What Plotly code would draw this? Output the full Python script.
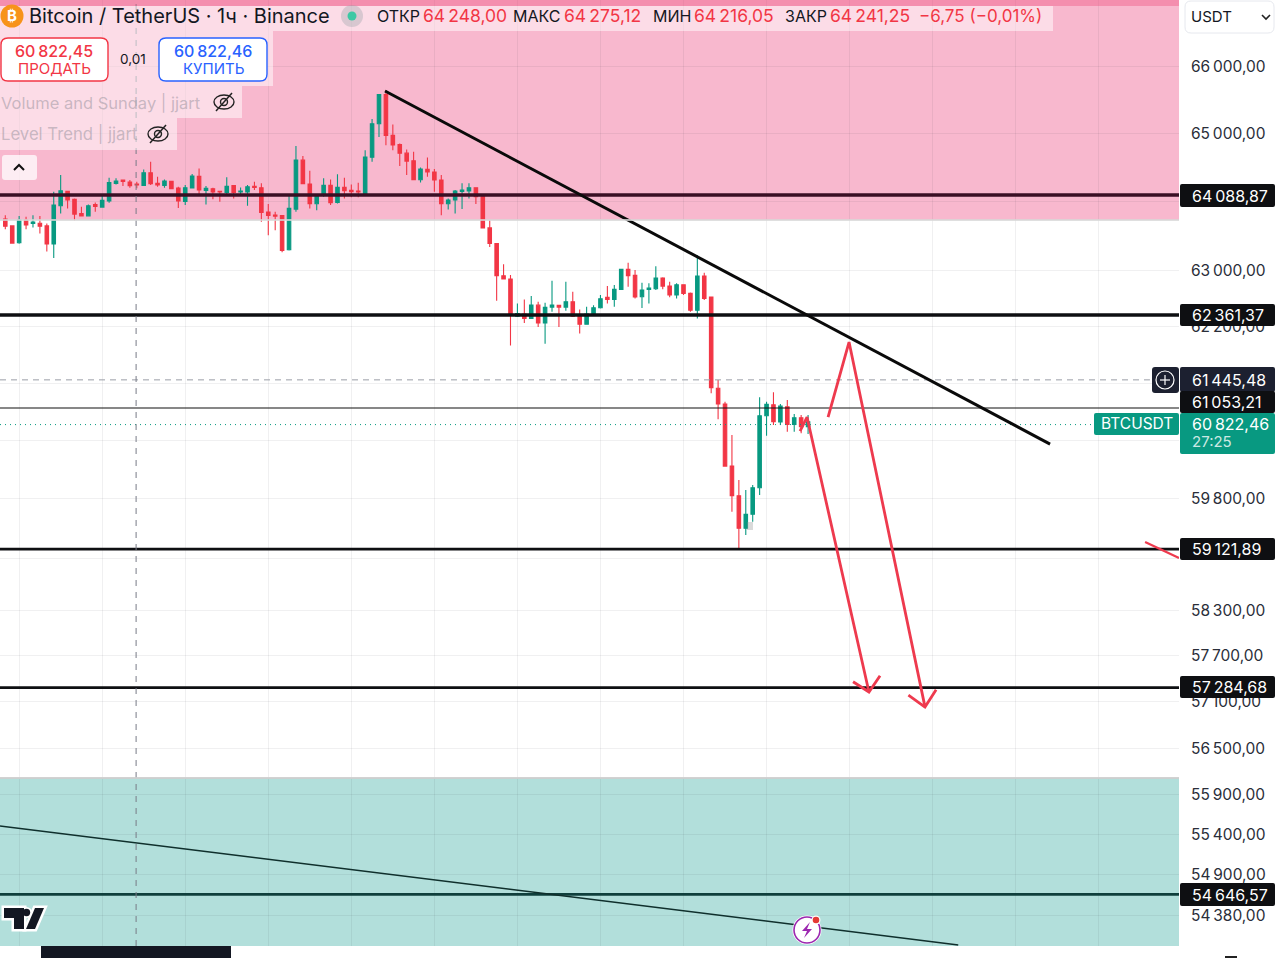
import math
import plotly.graph_objects as go

opens = [63738,63640,63396,63723,63674,63679,63640,63377,63933,64143,
64026,63821,63786,63952,63913,64001,64260,64309,64279,64250,
64231,64416,64260,64231,64289,64191,63996,64191,64362,64157,
64182,64143,64128,64226,64133,64133,64216,64196,63840,63796,
63791,63294,63884,64601,64250,63962,64089,64231,63982,64201,
64157,64148,64104,64645,65139,65573,64967,64831,64704,64592,
64313,64465,64426,64309,63962,64016,64143,64148,64196,64079,
63611,63386,62921,62873,62344,62373,62311,62501,62248,62473,
62497,62473,62549,62354,62230,62383,62463,62612,62583,62726,
63012,62926,62620,62726,62735,62888,62773,62645,62792,62669,
62430,62916,62616,61328,61108,60250,59844,59402,59592,59953,
60946,61098,60858,61071,60826,60918,60793]
highs = [63796,63650,63782,63772,63796,63782,63674,64138,64382,64152,
64040,63918,63952,63982,64089,64343,64333,64313,64309,64284,
64465,64577,64357,64318,64299,64211,64235,64396,64479,64221,
64196,64148,64348,64235,64201,64235,64284,64260,63957,63845,
63796,64089,64811,64660,64445,64089,64333,64318,64392,64343,
64245,64270,64748,65208,65578,65641,65129,64845,64758,64723,
64494,64640,64470,64382,64040,64162,64260,64260,64196,64089,
63723,63391,63085,62930,62526,62583,62630,62549,62534,62849,
62501,62835,62692,62440,62477,62501,62645,62773,62788,63012,
63106,63002,62820,62812,63059,62898,62835,62812,62798,62683,
63216,62963,62620,61444,61140,60677,60058,59922,59990,61202,
61140,61272,61108,61164,60969,60955,60955]
lows = [63591,63381,63381,63591,63616,63528,63269,63176,63821,63894,
63723,63782,63782,63845,63908,63977,64245,64221,64196,64187,
64226,64235,64211,64196,64172,63899,63943,64187,64089,63952,
64026,63991,64089,64040,64074,63933,64162,63699,63503,63577,
63259,63284,63845,64250,63894,63869,64065,63943,63967,64040,
64055,64055,64099,64577,64943,64821,64748,64514,64382,64309,
64274,64357,64138,63796,63879,63821,63884,64040,63957,63611,
63333,62564,62874,61930,62334,62248,62311,62191,61954,62406,
62191,62420,62334,62097,62226,62373,62454,62526,62477,62716,
62763,62597,62459,62526,62716,62726,62612,62597,62645,62406,
62311,62573,61258,60896,60250,59627,59109,59312,59492,59853,
60668,60816,60816,60724,60724,60701,60691]
closes = [63635,63391,63723,63655,63694,63635,63377,63943,64152,64016,
63811,63786,63933,63923,64011,64270,64294,64289,64226,64235,
64416,64255,64235,64294,64182,64001,64196,64367,64162,64187,
64133,64133,64216,64128,64148,64211,64201,63835,63791,63782,
63284,63894,64601,64255,63962,64089,64231,63977,64201,64152,
64138,64133,64645,65139,65573,64967,64826,64704,64587,64313,
64470,64426,64309,63962,64016,64148,64162,64196,64065,63611,
63386,62921,62874,62359,62383,62311,62501,62248,62469,62501,
62473,62549,62344,62230,62373,62463,62592,62583,62726,63012,
62920,62616,62716,62745,62888,62773,62645,62792,62669,62430,
62916,62597,61336,61108,60250,59844,59402,59592,59953,60946,
61104,60862,61081,60826,60918,60793,60862]
candle_index = list(range(len(opens)))

tick_values = [66000,65000,64000,63000,62200,61400,60600,59800,59000,58300,57700,57100,56500,55900,55400,54900,54380]
tick_labels = ["66\u2009000,00","65\u2009000,00","","63\u2009000,00","62\u2009200,00","","","59\u2009800,00","",
               "58\u2009300,00","57\u2009700,00","57\u2009100,00","56\u2009500,00","55\u2009900,00","55\u2009400,00","54\u2009900,00","54\u2009380,00"]

level_strong = [62361.37, 59121.89, 57284.68, 54646.57]
level_top = 64088.87
level_thin = 61053.21
crosshair_price = 61445.48
current_price = 60822.46
crosshair_index = 18.9
pink_zone = [63725, 67002]
teal_zone = [54008, 56115]

trend_x = [54.87, 150.97]
trend_y = [65626, 60553]
lower_trend_x = [-0.77, 137.7]
lower_trend_y = [55504, 54021]
arrow_a_x = [114.84, 115.85, 124.8, 122.5, 124.8, 126.4]
arrow_a_y = [60733, 60927, 57226, 57360, 57226, 57440]
arrow_b_x = [118.89, 121.92, 132.9, 130.5, 132.9, 134.5]
arrow_b_y = [60927, 61978, 57030, 57185, 57030, 57255]
stub_x = [164.7, 169.6]
stub_y = [59215, 59000]

W, H = 1179.0, 946.0
X = lambda p: p / W
Y = lambda p: 1 - p / H
GREEN, RED, BLUE, INK = "#089981", "#F23645", "#2962FF", "#131722"
FONT = "Inter"
XR = [-0.766, 169.6]
YR = [math.log10(54008), math.log10(67002)]

fig = go.Figure()
fig.add_trace(go.Candlestick(
    x=candle_index, open=opens, high=highs, low=lows, close=closes,
    increasing=dict(line=dict(color=GREEN, width=1.1), fillcolor=GREEN),
    decreasing=dict(line=dict(color=RED, width=1.1), fillcolor=RED),
    whiskerwidth=0, hoverinfo="skip", showlegend=False))

def line(xs, ys, color, width, dash=None):
    fig.add_trace(go.Scatter(x=xs, y=ys, mode="lines", hoverinfo="skip", showlegend=False,
                             line=dict(color=color, width=width, dash=dash)))

line(XR, [level_top] * 2, "#3A0F24", 3.4)
for v in level_strong:
    line(XR, [v, v], "#0E0F12" if v > 55000 else "#0F3F3C", 3.6 if v == 62361.37 else 2.8)
line(XR, [level_thin] * 2, "#111111", 1.2)
line([XR[0], 165.4], [crosshair_price] * 2, "#9A9DA6", 1, "6px,5px")
line([XR[0], 157.4], [current_price] * 2, GREEN, 1, "1px,4px")
line([crosshair_index] * 2, [54008, 67002], "#787B86", 1, "6px,6px")
line(trend_x, trend_y, "#0A0A0A", 3)
line(lower_trend_x, lower_trend_y, "#0F2F2C", 1.5)
line(arrow_a_x, arrow_a_y, "#EE3A4E", 2.8)
line(arrow_b_x, arrow_b_y, "#EE3A4E", 2.8)
line(stub_x, stub_y, "#EE3A4E", 2.2)

shapes, notes = [], []

def zone(vals, color):
    shapes.append(dict(type="rect", xref="paper", yref="y", x0=0, x1=1, y0=vals[0], y1=vals[1],
                       fillcolor=color, line_width=0, layer="below"))

zone(pink_zone, "rgba(240,98,146,0.45)")
zone(teal_zone, "rgba(0,150,136,0.30)")

def rect(x0, y0, x1, y1, fill, border=None, bw=1):
    shapes.append(dict(type="rect", xref="paper", yref="paper", x0=X(x0), x1=X(x1), y0=Y(y1), y1=Y(y0),
                       fillcolor=fill, line=dict(width=bw if border else 0, color=border or fill), layer="above"))

def rrect(x0, y0, x1, y1, r, fill, border=None, bw=1):
    a, b, c, d = X(x0), X(x1), Y(y0), Y(y1)
    rx, ry = r / W, r / H
    p = (f"M {a+rx} {c} L {b-rx} {c} Q {b} {c} {b} {c-ry} L {b} {d+ry} Q {b} {d} {b-rx} {d} "
         f"L {a+rx} {d} Q {a} {d} {a} {d+ry} L {a} {c-ry} Q {a} {c} {a+rx} {c} Z")
    shapes.append(dict(type="path", xref="paper", yref="paper", path=p, fillcolor=fill,
                       line=dict(width=bw if border else 0, color=border or fill), layer="above"))

def poly(pts, fill=None, color=None, width=0, closed=False):
    p = "M " + " L ".join(f"{X(a)} {Y(b)}" for a, b in pts) + (" Z" if closed else "")
    d = dict(type="path", xref="paper", yref="paper", path=p, layer="above",
             line=dict(width=width, color=color or "rgba(0,0,0,0)"))
    if fill:
        d["fillcolor"] = fill
    shapes.append(d)

def circ(cx, cy, r, fill=None, border=None, bw=1.5, rx=None):
    rr = rx or r
    d = dict(type="circle", xref="paper", yref="paper", x0=X(cx-rr), x1=X(cx+rr), y0=Y(cy+r), y1=Y(cy-r),
             line=dict(width=bw if border else 0, color=border or "rgba(0,0,0,0)"), layer="above")
    if fill:
        d["fillcolor"] = fill
    shapes.append(d)

def text(x, y, s, color=INK, size=15, anchor="left", weight=400):
    notes.append(dict(xref="paper", yref="paper", x=X(x), y=Y(y), text=s, showarrow=False, xanchor=anchor,
                      yanchor="middle", borderpad=0, align=anchor,
                      font=dict(family=FONT, size=size, color=color, weight=weight)))

# zone edges and page furniture
rect(0, 219, 1179, 221, "rgba(215,215,215,0.8)")
rect(0, 777, 1179, 779, "rgba(205,205,205,0.9)")
rect(0, 0, 1179, 6, "rgba(240,90,135,0.45)")
rect(747, 522, 753, 530, "rgba(150,150,150,0.35)")
rect(41, 946, 231, 958, "#131722")
rect(1225, 956, 1237, 958, "#222222")

# legend backdrops
TRANS = "rgba(255,255,255,0.5)"
rect(0, 6, 1053, 31, TRANS)
rect(0, 31, 273, 86, TRANS)
rect(0, 86, 242, 118, TRANS)
rect(0, 118, 177, 150, TRANS)
rrect(2, 155, 37, 180, 3, "rgba(255,255,255,0.75)")
poly([(14, 170), (19, 165), (24, 170)], color="#111111", width=2)

# title row
circ(12, 16, 11.5, fill="#F7931A")
text(12, 16, "₿", "#FFFFFF", 15, "center", 700)
text(28, 16, "Bitcoin / TetherUS · 1ч · Binance", INK, 20)
circ(352, 16, 11, fill="rgba(150,160,165,0.35)")
circ(352, 16, 4.5, fill="#3CC8A4")
text(376, 16, "ОТКР", INK, 16)
text(422, 16, "64\u2009248,00", RED, 17.5)
text(512, 16, "МАКС", INK, 16)
text(563, 16, "64\u2009275,12", RED, 17.5)
text(652, 16, "МИН", INK, 16)
text(693, 16, "64\u2009216,05", RED, 17.5)
text(784, 16, "ЗАКР", INK, 16)
text(829, 16, "64\u2009241,25", RED, 17.5)
text(918, 16, "−6,75 (−0,01%)", RED, 17)

# buy / sell
rrect(1, 38, 108, 81, 7, "#FFFFFF", RED, 1.4)
text(54.5, 51, "60\u2009822,45", RED, 16, "center", 500)
text(54.5, 68, "ПРОДАТЬ", RED, 15, "center")
text(133, 59, "0,01", INK, 13.5, "center")
rrect(159, 38, 267, 81, 7, "#FFFFFF", BLUE, 1.4)
text(213, 51, "60\u2009822,46", BLUE, 16, "center", 500)
text(213, 68, "КУПИТЬ", BLUE, 15, "center")

# indicator rows
GREY = "rgba(120,123,134,0.40)"
text(0, 103, "Volume and Sunday | jjart", GREY, 16.5)
text(0, 134, "Level Trend | jjart", GREY, 16.7)
for ex, ey in [(224, 102), (158, 134)]:
    circ(ex, ey, 7, border="#222222", bw=1.4, rx=10)
    circ(ex, ey, 3.5, border="#222222", bw=1.4)
    poly([(ex-8, ey+9), (ex+8, ey-9)], color="#222222", width=1.5)

# TradingView mark
LOGO_T = [(4, 908), (24, 908), (24, 929), (14, 929), (14, 918), (4, 918)]
LOGO_S = [(35, 908), (44, 908), (35, 929), (26, 929)]
poly(LOGO_T, fill="#FFFFFF", color="#FFFFFF", width=5, closed=True)
poly(LOGO_S, fill="#FFFFFF", color="#FFFFFF", width=5, closed=True)
circ(26.5, 912.5, 5.5, fill="#FFFFFF")
poly(LOGO_T, fill="#131722", closed=True)
circ(26.5, 912.5, 3.7, fill="#131722")
poly(LOGO_S, fill="#131722", closed=True)

# Flash orb
circ(807, 930, 14.5, fill="#FFFFFF")
circ(807, 930, 13, border="#9C27B0", bw=1.6)
poly([(810, 922), (802, 931), (807, 931), (804, 938), (812, 929), (807, 929)], fill="#9C27B0", closed=True)
circ(816, 920, 4.5, fill="#FFFFFF")
circ(816, 920, 3.3, fill="#E53935")

# USDT selector
rrect(1185, 1, 1274, 33, 6, "#FFFFFF", "#E6E8EE", 1)
text(1190, 17, "USDT", INK, 15)
poly([(1262, 15), (1266, 19), (1270, 15)], color="#222222", width=1.6)

# price tags
def tag(y0, y1, label, fill="#0E0F12"):
    rrect(1180, y0, 1275, y1, 2, fill)
    text(1191, (y0 + y1) / 2, label, "#FFFFFF", 16)

tag(184, 207, "64\u2009088,87")
tag(304, 326, "62\u2009361,37")
tag(367, 392, "61\u2009445,48", "#1C2030")
tag(391, 413, "61\u2009053,21")
tag(538, 560, "59\u2009121,89")
tag(676, 698, "57\u2009284,68")
tag(883, 906, "54\u2009646,57")
rrect(1180, 413, 1275, 454, 2, GREEN)
text(1191, 424, "60\u2009822,46", "#FFFFFF", 16)
text(1191, 442, "27:25", "rgba(255,255,255,0.8)", 15)
rrect(1094, 413, 1179, 435, 2, GREEN)
text(1100, 424, "BTCUSDT", "#FFFFFF", 15.5)
rrect(1152, 367, 1179, 393, 3, "#1C2030")
circ(1165, 380, 9, border="#FFFFFF", bw=1.2)
poly([(1160, 380), (1170, 380)], color="#FFFFFF", width=1.2)
poly([(1165, 375), (1165, 385)], color="#FFFFFF", width=1.2)

GRID = "rgba(42,46,57,0.07)"
fig.update_layout(
    width=1280, height=958, margin=dict(l=0, r=101, t=0, b=12, autoexpand=False),
    paper_bgcolor="#FFFFFF", plot_bgcolor="#FFFFFF", boxgap=0.28, showlegend=False,
    font=dict(family=FONT, color="#2A2E39"), shapes=shapes, annotations=notes, hovermode=False,
    xaxis=dict(range=XR, type="linear", rangeslider=dict(visible=False), tick0=2, dtick=12,
               showticklabels=False, ticks="", gridcolor=GRID, showgrid=True, zeroline=False, showline=False),
    yaxis=dict(type="log", range=YR, side="right", tickmode="array", tickvals=tick_values, ticktext=tick_labels,
               ticks="", ticklabelstandoff=11, gridcolor=GRID, showgrid=True, zeroline=False, showline=False,
               tickfont=dict(family=FONT, size=15.5, color="#2A2E39")),
)
fig.write_html("out.html", config=dict(displayModeBar=False, responsive=False),
               post_script="document.body.style.margin='0';")
